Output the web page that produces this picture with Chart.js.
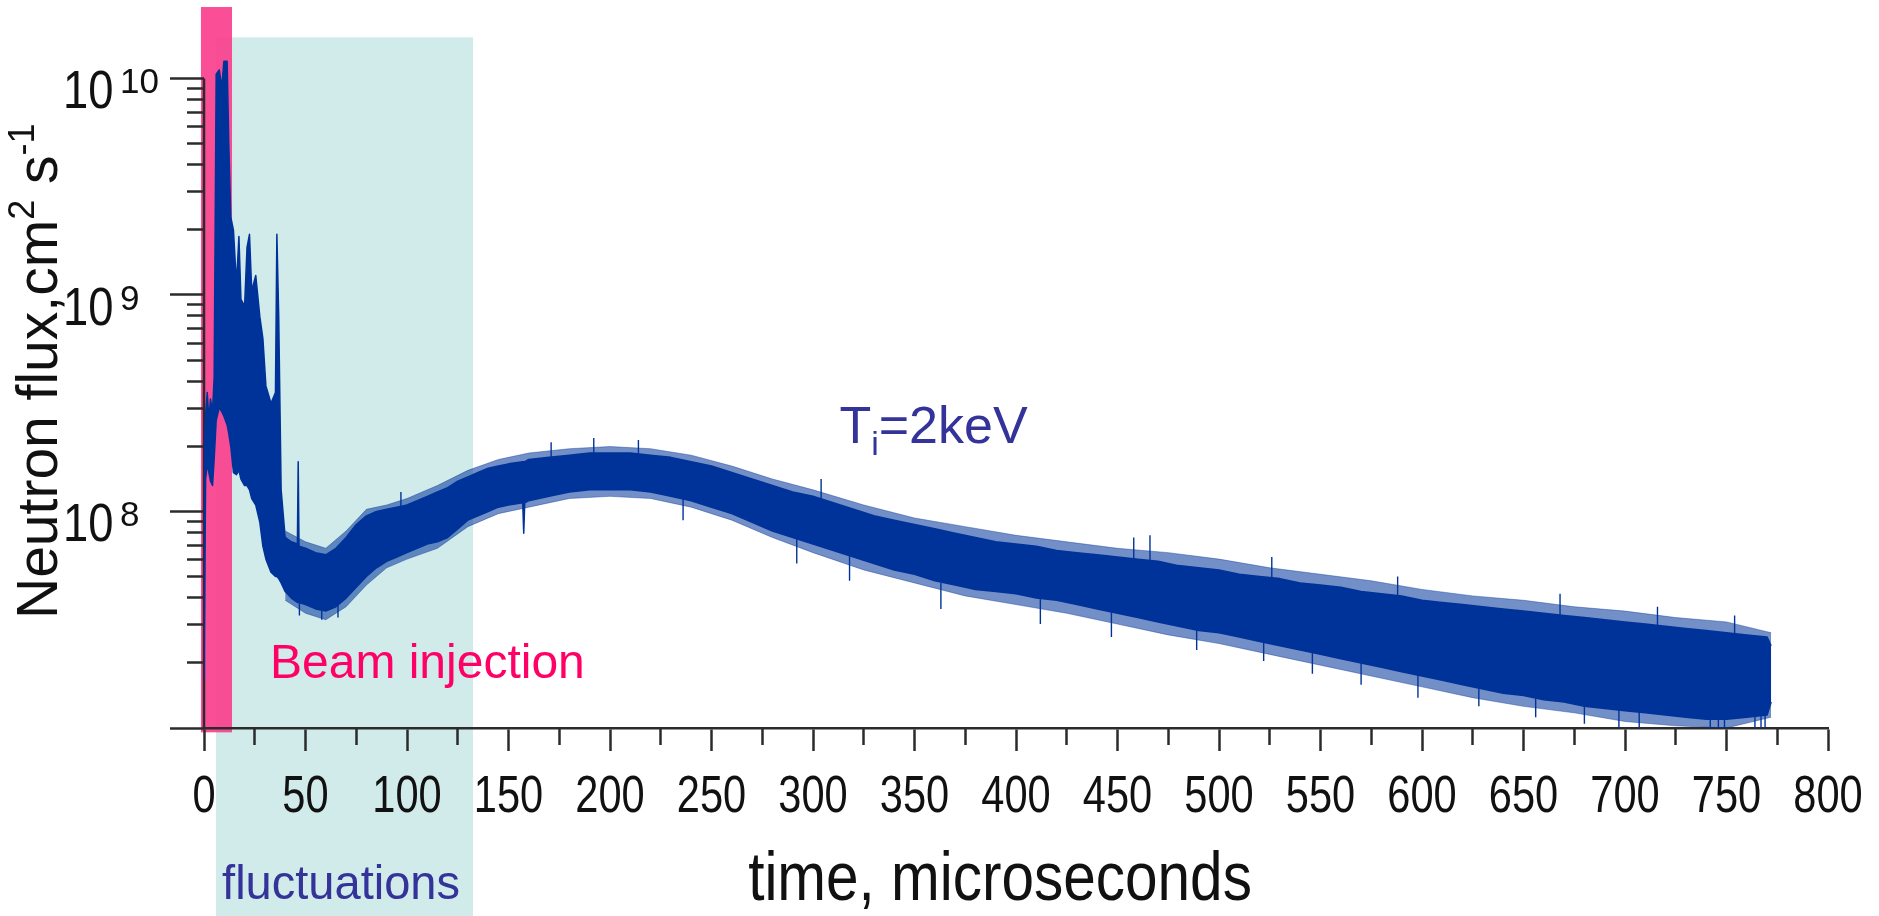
<!DOCTYPE html>
<html>
<head>
<meta charset="utf-8">
<script src="https://cdn.jsdelivr.net/npm/chart.js@4.4.0/dist/chart.umd.min.js"></script>
<style>
  html, body { margin: 0; padding: 0; background: #fff; }
  canvas { display: block; }
</style>
</head>
<body>
<canvas id="fluxChart" width="1879" height="916"></canvas>
<script>
// time, microseconds
const times = [
    0, 0.8, 1.6, 2.4, 3.2, 4.2, 5, 6, 7.5, 8.8, 9.8, 11.4, 12.2, 13.2, 14.5, 16, 17.2, 18.2,
    20, 21.2, 22.4, 23.5, 25.5, 27.5, 29, 30.5, 33, 35.2, 35.9, 36.8, 38, 40, 43, 46, 46.4, 46.8,
    50, 55, 60, 65, 70, 75, 80, 85, 90, 95, 100, 105, 110, 115, 120, 125, 130, 135, 140, 145, 150,
    157, 157.5, 158,
    160, 170, 180, 190, 200, 210, 220, 230, 240, 250,
    260, 270, 280, 290, 300, 310, 320, 330, 340, 350,
    360, 370, 380, 390, 400, 410, 420, 430, 440, 450,
    460, 470, 480, 490, 500, 510, 520, 530, 540, 550,
    560, 570, 580, 590, 600, 610, 620, 630, 640, 650,
    660, 670, 680, 690, 700, 710, 720, 730, 740, 750,
    760, 770, 772
];
// top and bottom of the dense part of the trace, log10(flux)
const upperLog = [
    8.25, 8.45, 8.55, 8.42, 8.52, 8.46, 8.62, 10.02, 10.04, 9.96, 10.08, 10.08, 9.70, 9.36, 9.30, 9.05, 9.27, 8.98,
    8.95, 9.22, 9.28, 9.02, 9.09, 8.90, 8.80, 8.58, 8.50, 8.55, 9.28, 8.90, 8.10, 7.88, 7.86, 7.85, 8.23, 7.84,
    7.83, 7.81, 7.80, 7.83, 7.88, 7.94, 7.98, 8.00, 8.01, 8.02, 8.03, 8.05, 8.07, 8.09, 8.11, 8.14, 8.16, 8.18, 8.20, 8.21, 8.22,
    8.23, 8.23, 8.23,
    8.24, 8.25, 8.26, 8.27, 8.27, 8.27, 8.26, 8.25, 8.23, 8.21,
    8.18, 8.15, 8.12, 8.09, 8.07, 8.04, 8.01, 7.98, 7.96, 7.94,
    7.92, 7.90, 7.88, 7.86, 7.85, 7.84, 7.82, 7.81, 7.80, 7.79,
    7.78, 7.77, 7.75, 7.74, 7.73, 7.71, 7.70, 7.69, 7.67, 7.66,
    7.65, 7.63, 7.62, 7.61, 7.59, 7.58, 7.57, 7.56, 7.55, 7.54,
    7.53, 7.52, 7.51, 7.50, 7.49, 7.48, 7.47, 7.46, 7.45, 7.44,
    7.43, 7.42, 7.38
];
const lowerLog = [
    7.22, 8.15, 8.22, 8.18, 8.14, 8.12, 8.24, 8.42, 8.48, 8.46, 8.44, 8.40, 8.36, 8.30, 8.18, 8.17, 8.19, 8.15,
    8.12, 8.12, 8.10, 8.06, 8.03, 7.95, 7.84, 7.78, 7.72, 7.70, 7.70, 7.69, 7.67, 7.63, 7.60, 7.58, 7.58, 7.58,
    7.57, 7.55, 7.54, 7.56, 7.60, 7.65, 7.70, 7.74, 7.77, 7.79, 7.81, 7.83, 7.85, 7.86, 7.88, 7.92, 7.96, 7.98, 8.00, 8.02, 8.03,
    8.04, 7.90, 8.04,
    8.05, 8.07, 8.09, 8.10, 8.10, 8.10, 8.09, 8.07, 8.05, 8.02,
    7.99, 7.95, 7.91, 7.88, 7.85, 7.82, 7.79, 7.76, 7.73, 7.71,
    7.68, 7.66, 7.64, 7.63, 7.62, 7.60, 7.59, 7.57, 7.55, 7.53,
    7.51, 7.49, 7.47, 7.45, 7.44, 7.42, 7.40, 7.38, 7.36, 7.34,
    7.32, 7.30, 7.28, 7.26, 7.24, 7.22, 7.20, 7.18, 7.16, 7.15,
    7.13, 7.12, 7.10, 7.09, 7.08, 7.07, 7.06, 7.05, 7.04, 7.04,
    7.05, 7.06, 7.12
];

// outer edge of the noise fringe around the dense band (log10)
const fringeTimes = [
    40, 50, 60, 70, 80, 90, 100, 115, 130, 145, 160, 180, 200, 220, 240, 260, 280, 300, 325,
    350, 375, 400, 425, 450, 475, 500, 525, 550, 575, 600, 625, 650, 675, 700, 725, 750, 772
];
const fringeUpperLog = [
    7.91, 7.86, 7.83, 7.91, 8.01, 8.03, 8.06, 8.12, 8.19, 8.24, 8.27, 8.29, 8.30, 8.29, 8.26, 8.21, 8.15, 8.10, 8.03,
    7.97, 7.93, 7.89, 7.86, 7.83, 7.81, 7.78, 7.74, 7.71, 7.68, 7.64, 7.61, 7.59, 7.56, 7.54, 7.51, 7.49, 7.44
];
const fringeLowerLog = [
    7.59, 7.53, 7.50, 7.56, 7.66, 7.74, 7.78, 7.83, 7.93, 7.99, 8.02, 8.06, 8.07, 8.06, 8.02, 7.96, 7.88, 7.81, 7.73,
    7.67, 7.61, 7.57, 7.53, 7.48, 7.43, 7.39, 7.34, 7.29, 7.24, 7.19, 7.14, 7.10, 7.07, 7.03, 7.01, 7.00, 7.05
];

// isolated noise spikes (time, tip in log10)
const upSpikeTimes = [97, 171, 192, 214, 304, 458, 466, 526, 588, 668, 716, 754];
const upSpikeTips = [8.09, 8.32, 8.34, 8.33, 8.15, 7.88, 7.89, 7.79, 7.70, 7.62, 7.56, 7.52];
const downSpikeTimes = [
    47, 58, 66, 236, 292, 318, 363, 412, 447, 489, 522, 546, 570, 598, 628, 656, 680,
    697, 707, 742, 746, 749, 764, 767, 769
];
const downSpikeTips = [
    7.52, 7.50, 7.51, 7.96, 7.76, 7.68, 7.55, 7.48, 7.42, 7.36, 7.31, 7.25, 7.20, 7.14, 7.10, 7.05, 7.02,
    7.00, 7.00, 7.00, 7.00, 7.00, 7.00, 7.00, 7.00
];

// axes
const xMajorTicks = [0, 50, 100, 150, 200, 250, 300, 350, 400, 450, 500, 550, 600, 650, 700, 750, 800];
const xMinorTicks = [25, 75, 125, 175, 225, 275, 325, 375, 425, 475, 525, 575, 625, 675, 725, 775];
const yDecades = [7, 8, 9, 10];
const yMantissas = [2, 3, 4, 5, 6, 7, 8, 9];
const yLabelDecades = [8, 9, 10];

// shaded regions: [t0, t1] and [log10 bottom, log10 top]
const beamSpan = [-1.5, 13.8];
const beamSpanLog = [6.98, 10.33];
const flucSpan = [5.9, 132.5];
const flucSpanLog = [6.13, 10.19];

const FONT = '"Liberation Sans", Arial, Helvetica, sans-serif';
const axisColor = '#2b2b2b';
const traceColor = '#003399';
const SPIKE_ROOT = 0.12; // how far a spike reaches back into the band
const pow10 = v => Math.pow(10, v);

const yMajorValues = yDecades.map(pow10);
const yMinorValues = [];
yDecades.slice(0, -1).forEach(d => yMantissas.forEach(m => yMinorValues.push(m * pow10(d))));

const toPoints = (ts, logs) => ts.map((t, i) => ({ x: t, y: pow10(logs[i]) }));
const spikeData = [];
upSpikeTimes.forEach((t, i) => {
    spikeData.push({ x: t, y: pow10(upSpikeTips[i] - SPIKE_ROOT) }, { x: t, y: pow10(upSpikeTips[i]) }, { x: t, y: null });
});
downSpikeTimes.forEach((t, i) => {
    spikeData.push({ x: t, y: pow10(downSpikeTips[i] + SPIKE_ROOT) }, { x: t, y: pow10(downSpikeTips[i]) }, { x: t, y: null });
});

function fixTicks(values) {
    return scale => { scale.ticks = values.map(v => ({ value: v })); };
}

function drawRuns(ctx, runs, x, y, scaleX) {
    // runs: [text, fontSize, baselineShift]
    let cx = x;
    runs.forEach(([text, size, dy]) => {
        ctx.save();
        ctx.font = size + 'px ' + FONT;
        ctx.translate(cx, y + dy);
        ctx.scale(scaleX, 1);
        ctx.fillText(text, 0, 0);
        cx += ctx.measureText(text).width * scaleX;
        ctx.restore();
    });
}

const decorations = {
    id: 'decorations',
    beforeDraw(chart) {
        const { ctx, scales: { x, y } } = chart;
        const box = (span, spanLog, color) => {
            const x0 = x.getPixelForValue(span[0]), x1 = x.getPixelForValue(span[1]);
            const y0 = y.getPixelForValue(pow10(spanLog[1])), y1 = y.getPixelForValue(pow10(spanLog[0]));
            ctx.fillStyle = color;
            ctx.fillRect(x0, y0, x1 - x0, y1 - y0);
        };
        ctx.save();
        box(flucSpan, flucSpanLog, '#d1eaea');
        box(beamSpan, beamSpanLog, 'rgba(250, 60, 140, 0.9)');
        ctx.restore();
    },
    beforeDatasetsDraw(chart) {
        const { ctx, scales: { x, y } } = chart;
        // y axis line only up to the top decade
        ctx.save();
        ctx.strokeStyle = axisColor;
        ctx.lineWidth = 2.5;
        ctx.beginPath();
        ctx.moveTo(x.getPixelForValue(0), y.getPixelForValue(pow10(10)));
        ctx.lineTo(x.getPixelForValue(0), y.getPixelForValue(pow10(7)));
        ctx.stroke();
        ctx.restore();
    },
    afterDraw(chart) {
        const { ctx, scales: { x, y } } = chart;
        ctx.save();
        ctx.textBaseline = 'alphabetic';

        // x tick labels (narrow digits as in the original figure)
        ctx.fillStyle = '#111';
        ctx.textAlign = 'center';
        xMajorTicks.forEach(v => {
            ctx.save();
            ctx.font = '52px ' + FONT;
            ctx.translate(x.getPixelForValue(v), 812);
            ctx.scale(0.8, 1);
            ctx.fillText(String(v), 0, 0);
            ctx.restore();
        });

        // y tick labels 10^n
        ctx.textAlign = 'left';
        yLabelDecades.forEach(d => {
            const py = y.getPixelForValue(pow10(d));
            drawRuns(ctx, [['10', 54, 0]], 63, py + 30, 0.84);
            drawRuns(ctx, [[String(d), 35, 0]], 120, py + 15, 1);
        });

        // axis titles
        ctx.save();
        ctx.font = '68px ' + FONT;
        ctx.textAlign = 'center';
        ctx.translate((x.left + x.right) / 2 - 16, 900);
        ctx.scale(0.86, 1);
        ctx.fillText('time, microseconds', 0, 0);
        ctx.restore();

        ctx.save();
        ctx.translate(57, 619);
        ctx.rotate(-Math.PI / 2);
        ctx.textAlign = 'left';
        drawRuns(ctx, [['Neutron flux,cm', 57, 0], ['2', 36, -23], [' s', 57, 0], ['-1', 36, -23]], 0, 0, 1);
        ctx.restore();

        // annotations
        ctx.fillStyle = '#ff0066';
        drawRuns(ctx, [['Beam injection', 48, 0]], x.getPixelForValue(32.5), y.getPixelForValue(pow10(7.232)), 1);

        ctx.fillStyle = '#333399';
        drawRuns(ctx, [['fluctuations', 48, 0]], x.getPixelForValue(8.9), y.getPixelForValue(pow10(6.211)), 0.98);
        drawRuns(ctx, [['T', 52, 0], ['i', 34, 12], ['=2keV', 52, 0]],
            x.getPixelForValue(313), y.getPixelForValue(pow10(8.318)), 1);
        ctx.restore();
    }
};

const ctx = document.getElementById('fluxChart').getContext('2d');
const fluxChart = new Chart(ctx, {
    type: 'line',
    data: {
        datasets: [
            {
                label: 'upper',
                data: toPoints(times, upperLog),
                borderColor: traceColor,
                borderWidth: 1.5,
                borderJoinStyle: 'round',
                pointRadius: 0,
                fill: false
            },
            {
                label: 'lower',
                data: toPoints(times, lowerLog),
                borderColor: traceColor,
                backgroundColor: traceColor,
                borderWidth: 1.5,
                borderJoinStyle: 'round',
                pointRadius: 0,
                fill: '-1'
            },
            {
                label: 'fringe upper',
                data: toPoints(fringeTimes, fringeUpperLog),
                borderColor: 'rgba(0, 51, 153, 0.4)',
                borderWidth: 1,
                pointRadius: 0,
                fill: false
            },
            {
                label: 'fringe lower',
                data: toPoints(fringeTimes, fringeLowerLog),
                borderColor: 'rgba(0, 51, 153, 0.4)',
                backgroundColor: 'rgba(0, 51, 153, 0.55)',
                borderWidth: 1,
                pointRadius: 0,
                fill: '-1'
            },
            {
                label: 'spikes',
                data: spikeData,
                borderColor: traceColor,
                borderWidth: 1.4,
                pointRadius: 0,
                spanGaps: false,
                fill: false
            }
        ]
    },
    options: {
        responsive: false,
        animation: false,
        devicePixelRatio: 1,
        layout: { padding: { left: 0, top: 46, right: 51, bottom: 0 } },
        plugins: {
            legend: { display: false },
            tooltip: { enabled: false }
        },
        scales: {
            x: {
                type: 'linear',
                position: 'bottom',
                weight: 1,
                min: 0,
                max: 800,
                afterBuildTicks: fixTicks(xMajorTicks),
                afterFit: s => { s.height = 188; },
                ticks: { display: false },
                grid: { drawOnChartArea: false, tickLength: 23, tickWidth: 2.5, tickColor: axisColor },
                border: { display: true, color: axisColor, width: 2.5 }
            },
            xMinor: {
                type: 'linear',
                position: 'bottom',
                weight: 0,
                min: 0,
                max: 800,
                afterBuildTicks: fixTicks(xMinorTicks),
                afterFit: s => { s.height = 0; },
                ticks: { display: false },
                grid: { drawOnChartArea: false, tickLength: 17, tickWidth: 2.5, tickColor: axisColor },
                border: { display: false }
            },
            y: {
                type: 'logarithmic',
                position: 'left',
                weight: 1,
                min: pow10(7),
                max: pow10(10.15),
                afterBuildTicks: fixTicks(yMajorValues),
                afterFit: s => { s.width = 204; },
                ticks: { display: false },
                grid: { drawOnChartArea: false, tickLength: 34, tickWidth: 2.5, tickColor: axisColor },
                border: { display: false }
            },
            yMinor: {
                type: 'logarithmic',
                position: 'left',
                weight: 0,
                min: pow10(7),
                max: pow10(10.15),
                afterBuildTicks: fixTicks(yMinorValues),
                afterFit: s => { s.width = 0; },
                ticks: { display: false },
                grid: { drawOnChartArea: false, tickLength: 17, tickWidth: 2.5, tickColor: axisColor },
                border: { display: false }
            }
        }
    },
    plugins: [decorations]
});
</script>
</body>
</html>
